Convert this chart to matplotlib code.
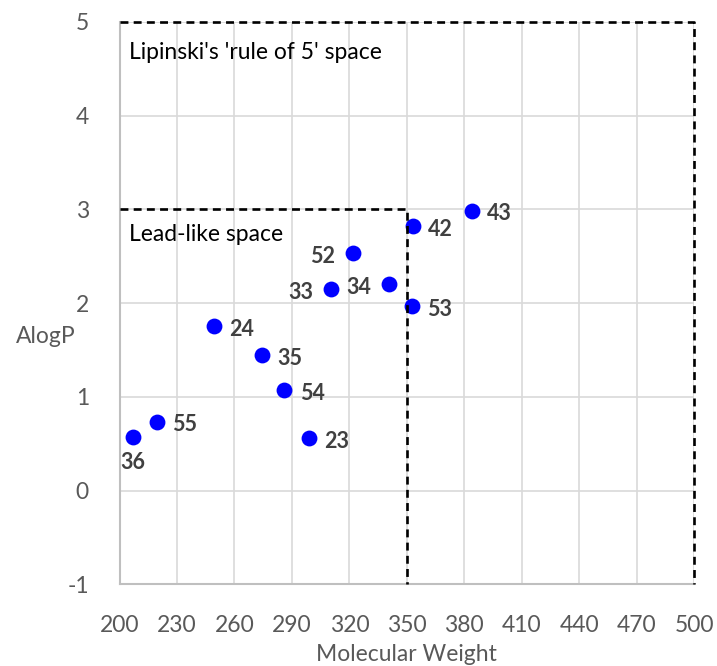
import matplotlib.pyplot as plt

plt.rcParams["font.family"] = ["Lato", "DejaVu Sans"]
plt.rcParams["axes.unicode_minus"] = False

# compound ids, molecular weight, AlogP
compounds = ["36", "55", "24", "35", "54", "23", "33", "52", "34", "53", "42", "43"]
mol_weight = [206.9, 219.4, 249.3, 274.4, 286.1, 299.1, 310.4, 322.1, 340.9, 352.6, 353.1, 383.9]
alogp = [0.568, 0.735, 1.756, 1.447, 1.073, 0.559, 2.15, 2.531, 2.204, 1.969, 2.822, 2.985]

# label placement (offset in points)
label_offsets = {"36": (-9, -23), "33": (-31, -7), "52": (-31, -7), "34": (-31, -7)}

# limits of chemical space
lipinski_mw, lipinski_logp = 500, 5
lead_mw, lead_logp = 350, 3

x_ticks = list(range(200, 501, 30))
y_ticks = list(range(-1, 6))

fig = plt.figure(figsize=(7.17, 6.66), dpi=100)
ax = fig.add_axes([0.1667, 0.1224, 0.8013, 0.845])

ax.scatter(mol_weight, alogp, s=130, color="#0000ff", zorder=3, linewidths=0)

for name, x, y in zip(compounds, mol_weight, alogp):
    dx, dy = label_offsets.get(name, (11, -7))
    ax.annotate(name, (x, y), xytext=(dx, dy), textcoords="offset points",
                fontsize=15.5, fontweight="bold", color="#404040")

ax.plot([200, lipinski_mw, lipinski_mw], [lipinski_logp, lipinski_logp, -1],
        color="black", lw=1.9, dashes=(3, 2), zorder=4, clip_on=False)
ax.plot([200, lead_mw, lead_mw], [lead_logp, lead_logp, -1],
        color="black", lw=1.9, dashes=(3, 2), zorder=4, clip_on=False)

ax.text(205, 4.67, "Lipinski's 'rule of 5' space", fontsize=16.5, va="center", color="black")
ax.text(205, 2.73, "Lead-like space", fontsize=16.5, va="center", color="black")

ax.set_xlim(200, 500)
ax.set_ylim(-1, 5)
ax.set_xticks(x_ticks)
ax.set_yticks(y_ticks)
ax.grid(True, color="#d9d9d9", lw=1.2, zorder=0)
ax.set_axisbelow(True)
ax.tick_params(length=0, labelsize=16.5, labelcolor="#595959")
ax.tick_params(axis="y", pad=22)
ax.tick_params(axis="x", pad=22)
for side in ["top", "right"]:
    ax.spines[side].set_visible(False)
for side in ["left", "bottom"]:
    ax.spines[side].set_color("#bfbfbf")
    ax.spines[side].set_linewidth(1.5)

ax.set_xlabel("Molecular Weight", fontsize=16.5, color="#595959")
ax.xaxis.set_label_coords(0.5, -0.125)
ax.xaxis.label.set_va("center")
ax.set_ylabel("AlogP", fontsize=16.5, color="#595959", rotation=0, ha="center", va="center")
ax.yaxis.set_label_coords(-0.128, 0.441)

fig.savefig("out.png", dpi=100)
